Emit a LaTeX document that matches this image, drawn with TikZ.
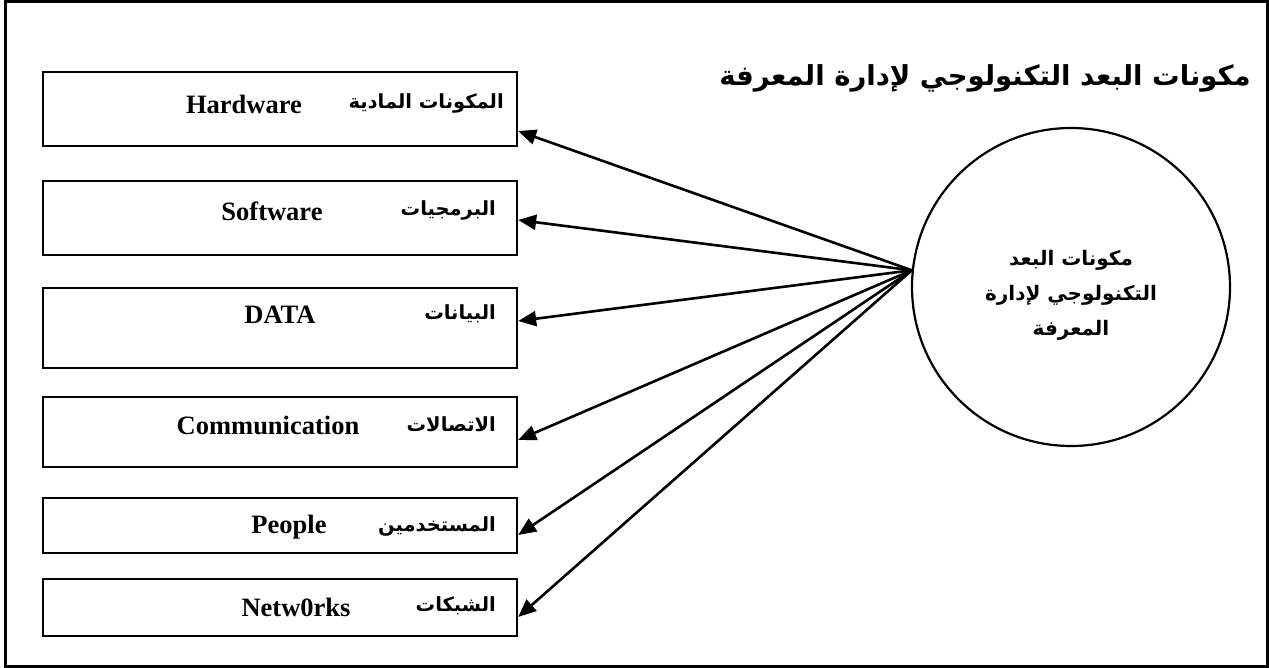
\documentclass[tikz,border=0pt]{standalone}
\usepackage{fontspec}
\setmainfont{Liberation Serif}
\newfontfamily\arabicfont[Script=Arabic]{DejaVu Sans}
\TeXXeTstate=1
\usetikzlibrary{arrows.meta}
\begin{document}
\begin{tikzpicture}[x=1pt,y=-1pt,
  itembox/.style={draw,line width=2.3pt,minimum width=474pt,inner sep=0pt},
  latin/.style={font=\fontsize{26.5}{30}\selectfont\bfseries,inner sep=0pt},
  arab/.style={font=\arabicfont\fontsize{19.5}{22}\selectfont\bfseries,inner sep=0pt,anchor=east},
  link/.style={line width=2.6pt,-{Triangle[length=18pt,width=15pt]}},
]
\useasboundingbox (0,0) rectangle (1269,668);
% outer frame
\draw[line width=3pt] (5,1.5) rectangle (1267,666.5);

% title
\node[font=\arabicfont\fontsize{27.5}{30}\selectfont\bfseries,inner sep=0pt] (title) at (985,78)
  {\beginR مكونات البعد التكنولوجي لإدارة المعرفة\endR};

% central circle
\node[draw,circle,line width=2.2pt,minimum size=318pt,inner sep=0pt] (circ) at (1071,287) {};
\node[font=\arabicfont\fontsize{20}{35}\selectfont\bfseries,align=center,inner sep=0pt] (ctext) at (1071,295)
  {\beginR مكونات البعد\endR\\ \beginR التكنولوجي لإدارة\endR\\ \beginR المعرفة\endR};

% component boxes
\node[itembox,minimum height=74pt] (b1) at (280,109) {};
\node[itembox,minimum height=74pt] (b2) at (280,218) {};
\node[itembox,minimum height=80pt] (b3) at (280,328) {};
\node[itembox,minimum height=70pt] (b4) at (280,432) {};
\node[itembox,minimum height=55pt] (b5) at (280,525.5) {};
\node[itembox,minimum height=57pt] (b6) at (280,607.5) {};

% box labels
\node[latin] (l1) at (244,104) {Hardware};
\node[arab] (a1) at (504,103) {\beginR المكونات المادية\endR};
\node[latin] (l2) at (272,211) {Software};
\node[arab] (a2) at (496,210) {\beginR البرمجيات\endR};
\node[latin] (l3) at (280,315) {DATA};
\node[arab] (a3) at (496,314) {\beginR البيانات\endR};
\node[latin] (l4) at (268,425) {Communication};
\node[arab] (a4) at (496,424) {\beginR الاتصالات\endR};
\node[latin] (l5) at (289,527) {People};
\node[arab] (a5) at (496,526) {\beginR المستخدمين\endR};
\node[latin] (l6) at (296,607) {Netw0rks};
\node[arab] (a6) at (496,606) {\beginR الشبكات\endR};

% connectors from the circle to every box
\coordinate (hub) at (circ.174);
\draw[link] (hub) -- ([yshift=-22pt]b1.east);
\draw[link] (hub) -- ([yshift=-2pt]b2.east);
\draw[link] (hub) -- ([yshift=7pt]b3.east);
\draw[link] (hub) -- ([yshift=-8pt]b4.east);
\draw[link] (hub) -- ([yshift=-9.5pt]b5.east);
\draw[link] (hub) -- ([yshift=-9.5pt]b6.east);
\end{tikzpicture}
\end{document}
